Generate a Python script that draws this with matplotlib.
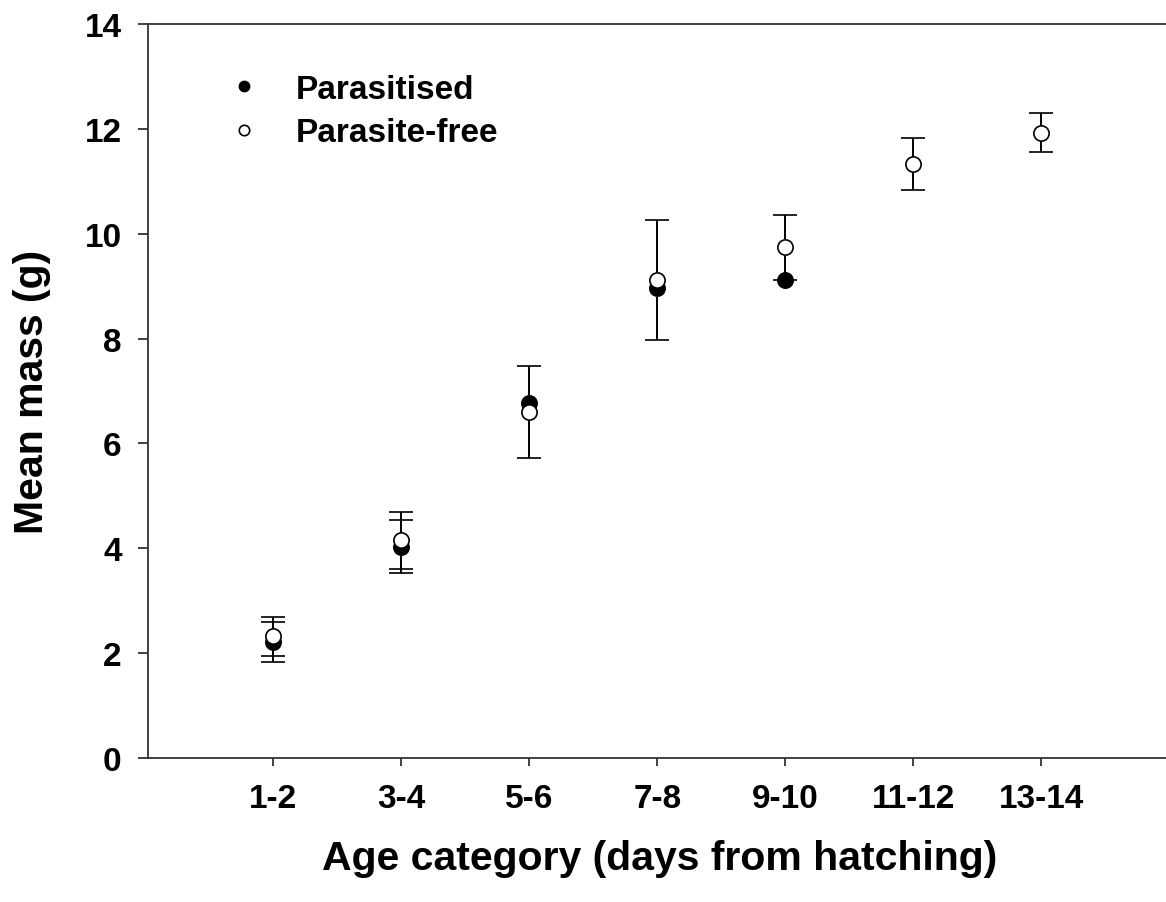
import numpy as np
import matplotlib.pyplot as plt

plt.rcParams['font.family'] = ['Liberation Sans', 'DejaVu Sans']
plt.rcParams['font.weight'] = 'bold'

# age categories (days from hatching)
ages = ['1-2', '3-4', '5-6', '7-8', '9-10', '11-12', '13-14']

# mean mass (g) and error
para_mean = [2.21, 4.03, 6.78, 8.97, 9.12]
para_err = [0.38, 0.50, np.nan, np.nan, np.nan]

free_mean = [2.32, 4.15, 6.60, 9.12, 9.74, 11.33, 11.93]
free_err = [0.37, 0.55, 0.88, 1.15, 0.62, 0.50, 0.37]

fig = plt.figure(figsize=(11.66, 9.03), dpi=100)
ax = fig.add_axes([0.1269, 0.1595, 0.878, 0.8128])

x_para = np.arange(1, len(para_mean) + 1)
x_free = np.arange(1, len(free_mean) + 1)

ax.errorbar(x_para, para_mean, yerr=para_err, fmt='o', color='black',
            mfc='black', mec='black', ms=11, mew=1.2, elinewidth=1.4,
            capsize=8.5, capthick=1.4, zorder=2)
ax.errorbar(x_free, free_mean, yerr=free_err, fmt='o', color='black',
            mfc='white', mec='black', ms=11, mew=1.2, elinewidth=1.4,
            capsize=8.5, capthick=1.4, zorder=3)

h1, = ax.plot([], [], 'o', color='black', ms=7.5)
h2, = ax.plot([], [], 'o', mfc='white', mec='black', ms=7.5, mew=1.2)
ax.legend([h1, h2], ['Parasitised', 'Parasite-free'], loc='upper left',
          bbox_to_anchor=(0.045, 0.973), frameon=False, fontsize=24,
          handlelength=1.2, handletextpad=0.95, labelspacing=0.38)

ax.set_xlim(0.02, 8.02)
ax.set_ylim(0, 14)
ax.set_xticks(x_free)
ax.set_xticklabels(ages)
ax.set_yticks(np.arange(0, 15, 2))

ax.spines['right'].set_visible(False)
for s in ['left', 'bottom', 'top']:
    ax.spines[s].set_linewidth(1.3)
    ax.spines[s].set_color('#333333')

ax.tick_params(axis='y', direction='out', length=7, width=1.3, pad=12,
               labelsize=24, color='#333333')
ax.tick_params(axis='x', direction='out', length=6, width=1.3, pad=12,
               labelsize=24, color='#333333')

ax.set_xlabel('Age category (days from hatching)', fontsize=29.5,
              fontweight='bold', labelpad=18)
ax.set_ylabel('Mean mass (g)', fontsize=29.5, fontweight='bold', labelpad=24)

fig.savefig('out.png', dpi=100)
